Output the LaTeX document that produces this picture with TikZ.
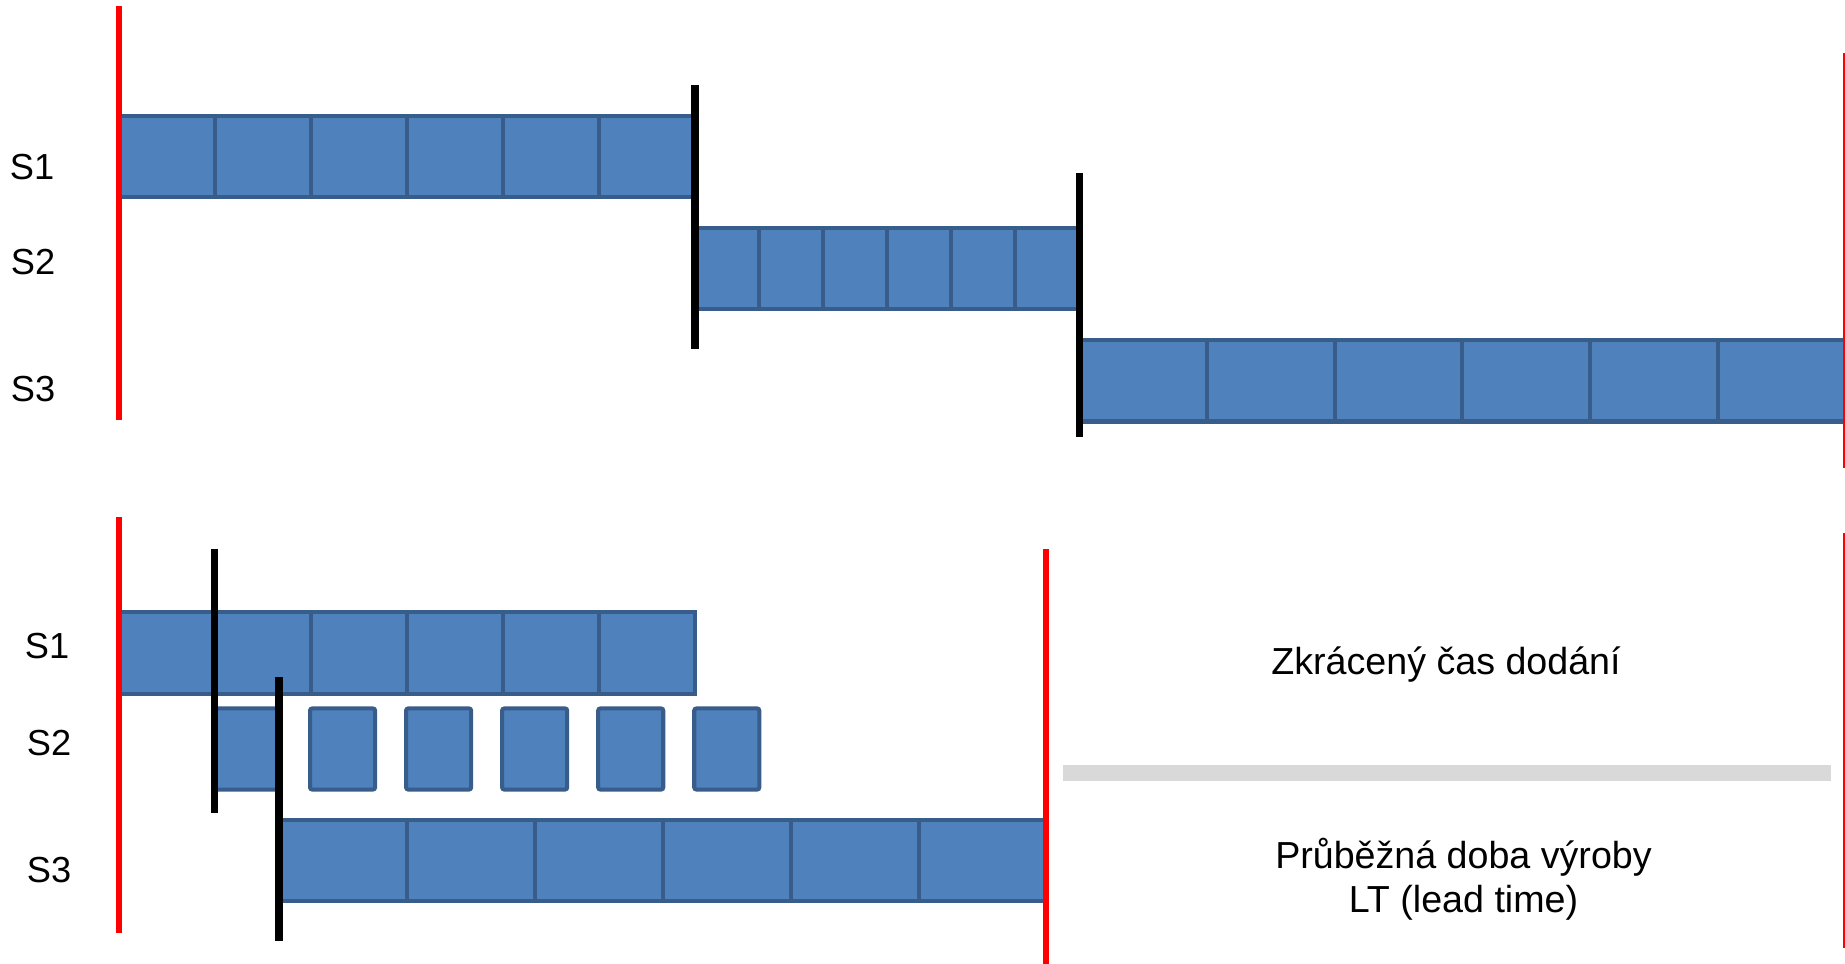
\documentclass[tikz,border=0pt]{standalone}
\usepackage{fontspec}
\setmainfont{Liberation Sans}
\usetikzlibrary{chains,positioning}

\definecolor{barfill}{HTML}{4F81BD}
\definecolor{barline}{HTML}{385D8A}
\definecolor{sepgray}{HTML}{D9D9D9}

\begin{document}
\begin{tikzpicture}[
    x=0.01cm, y=-0.01cm,
    cell/.style={draw=barline, fill=barfill, line width=1.15pt, minimum height=0.81cm, inner sep=0pt, outer sep=0pt},
    wcell/.style={cell, minimum width=0.96cm},
    ncell/.style={cell, minimum width=0.64cm},
    lcell/.style={cell, minimum width=1.277cm},
    box/.style={cell, minimum width=0.65cm, rounded corners=0.6pt},
    row/.style={font=\fontsize{10.3}{12}\selectfont, anchor=base},
    note/.style={font=\fontsize{10.7}{12.5}\selectfont, align=center},
    limit/.style={red, line width=1.7pt},
    cut/.style={black, line width=2pt},
    node distance=0pt
]
\useasboundingbox (0,0) rectangle (1845,964);

% sequential order
\begin{scope}[start chain=a1]
    \node[wcell, on chain=a1] (a1-1) at (167,156.5) {};
    \foreach \i in {2,...,6}
        \node[wcell, on chain=a1] (a1-\i) {};
\end{scope}
\begin{scope}[start chain=a2]
    \node[ncell, on chain=a2] (a2-1) at (727,268.5) {};
    \foreach \i in {2,...,6}
        \node[ncell, on chain=a2] (a2-\i) {};
\end{scope}
\begin{scope}[start chain=a3]
    \node[lcell, on chain=a3] (a3-1) at (1142.85,381) {};
    \foreach \i in {2,...,6}
        \node[lcell, on chain=a3] (a3-\i) {};
\end{scope}

\node[row] (la1) at (32,180) {S1};
\node[row] (la2) at (33,275) {S2};
\node[row] (la3) at (33,402) {S3};

\draw[limit] (119,6) -- (119,420);
\draw[cut] (695,85) -- (695,349);
\draw[cut] (1079.5,173) -- (1079.5,437);
\draw[limit] (1846,53) -- (1846,468);

% overlapping order
\begin{scope}[start chain=b1]
    \node[wcell, on chain=b1] (b1-1) at (167,653) {};
    \foreach \i in {2,...,6}
        \node[wcell, on chain=b1] (b1-\i) {};
\end{scope}
\begin{scope}[start chain=b2, node distance=0.31cm]
    \node[box, on chain=b2] (b2-1) at (246.5,749) {};
    \foreach \i in {2,...,6}
        \node[box, on chain=b2] (b2-\i) {};
\end{scope}
\begin{scope}[start chain=b3, lcell/.append style={minimum width=1.28cm}]
    \node[lcell, on chain=b3] (b3-1) at (343,860.5) {};
    \foreach \i in {2,...,6}
        \node[lcell, on chain=b3] (b3-\i) {};
\end{scope}

\node[row] (lb1) at (47,659) {S1};
\node[row] (lb2) at (49,755) {S2};
\node[row] (lb3) at (49,882) {S3};

\draw[limit] (119,517) -- (119,933);
\draw[cut] (214.4,549) -- (214.4,813);
\draw[cut] (279,677) -- (279,941);
\draw[limit] (1046,549) -- (1046,964);
\draw[limit] (1846,533) -- (1846,948);

\node[note, anchor=base] (short) at (1446,675) {Zkrácený čas dodání};
\draw[sepgray, line width=4.5pt] (1063,773) -- (1831,773);
\node[note] (lt) at (1463.5,879) {Průběžná doba výroby\\LT (lead time)};

\end{tikzpicture}
\end{document}
